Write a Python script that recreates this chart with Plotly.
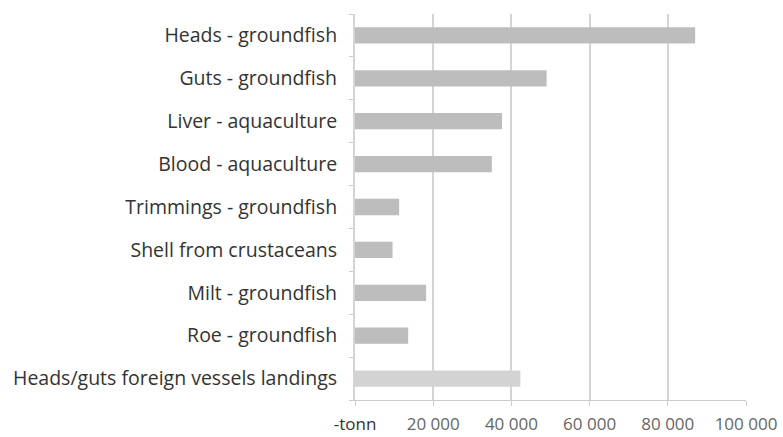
import plotly.graph_objects as go

# By-product volumes in tonnes
categories = [
    "Heads - groundfish",
    "Guts - groundfish",
    "Liver - aquaculture",
    "Blood - aquaculture",
    "Trimmings - groundfish",
    "Shell from crustaceans",
    "Milt - groundfish",
    "Roe - groundfish",
    "Heads/guts foreign vessels landings",
]
tonnes = [87000, 49000, 37600, 35000, 11300, 9600, 18200, 13600, 42300]
bar_colors = ["#bdbdbd"] * 8 + ["#d3d3d3"]

tick_vals = [0, 20000, 40000, 60000, 80000, 100000]
tick_text = ["<span style='color:#333333'>-tonn</span>", "20 000", "40 000",
             "60 000", "80 000", "100 000"]

fig = go.Figure(
    go.Bar(
        y=categories,
        x=tonnes,
        orientation="h",
        marker=dict(color=bar_colors, line=dict(width=0)),
        width=0.38,
    )
)

fig.update_layout(
    width=783,
    height=437,
    margin=dict(l=355, r=37, t=14, b=37),
    paper_bgcolor="white",
    plot_bgcolor="white",
    showlegend=False,
    font=dict(family="Open Sans", color="#333333"),
    bargap=0.6,
)

fig.update_xaxes(
    range=[0, 100000],
    tickvals=tick_vals,
    ticktext=tick_text,
    tickfont=dict(size=17, color="#666666"),
    showgrid=True,
    gridcolor="#d4d4d4",
    gridwidth=2,
    zeroline=False,
    showline=True,
    linecolor="#cccccc",
    linewidth=1,
    ticks="outside",
    ticklen=5,
    tickcolor="#cccccc",
    ticklabelstandoff=4,
    automargin=False,
)

fig.update_yaxes(
    categoryorder="array",
    categoryarray=categories[::-1],
    tickfont=dict(size=19.5, color="#333333"),
    showline=True,
    linecolor="#d4d4d4",
    linewidth=2,
    ticks="outside",
    tickson="boundaries",
    ticklen=4,
    tickcolor="#cccccc",
    showgrid=False,
    ticklabelstandoff=12,
    automargin=False,
)

fig.write_html("out.html")
